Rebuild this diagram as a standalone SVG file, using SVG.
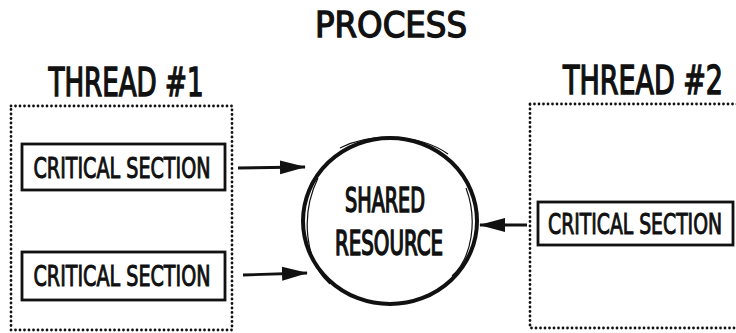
<svg xmlns="http://www.w3.org/2000/svg" width="736" height="333" viewBox="0 0 736 333">
<style>
.t{font-family:"DejaVu Sans Condensed","DejaVu Sans","Liberation Sans",sans-serif;fill:#111;stroke:#111;text-anchor:middle}
.title{font-size:30px;stroke-width:1.1}
.pr{font-size:36px;stroke-width:1.3}
.cs{font-size:20.5px;stroke-width:0.7}
.sr{font-size:21.5px;stroke-width:1}
.dot{fill:none;stroke:#111;stroke-width:2.8;stroke-dasharray:0 4.5;stroke-linecap:round}
.box{fill:#fff;stroke:#111;stroke-width:2.8}
.arr{stroke:#111;stroke-width:2.8;fill:none}
</style>
<defs>
<marker id="ah" viewBox="0 0 26 16" refX="25" refY="8" markerWidth="26" markerHeight="16" markerUnits="userSpaceOnUse" orient="auto">
<path d="M0,1 L26,8 L0,15 z" fill="#111"/>
</marker>
</defs>
<rect width="736" height="333" fill="#fff"/>
<g id="process-title">
<text class="t pr" x="391" y="37" textLength="152" lengthAdjust="spacingAndGlyphs">PROCESS</text>
</g>
<g id="thread1">
<text class="t title" transform="translate(126,96) scale(1,1.3)" textLength="155" lengthAdjust="spacingAndGlyphs">THREAD #1</text>
<rect class="dot" x="11" y="106" width="221" height="224"/>
</g>
<g id="cs1">
<rect class="box" x="22" y="144" width="203" height="46"/>
<text class="cs t" transform="translate(122,178) scale(1,1.4)" textLength="177" lengthAdjust="spacingAndGlyphs">CRITICAL SECTION</text>
</g>
<g id="cs2">
<rect class="box" x="22" y="252" width="203" height="48"/>
<text class="cs t" transform="translate(122,286) scale(1,1.4)" textLength="177" lengthAdjust="spacingAndGlyphs">CRITICAL SECTION</text>
</g>
<g id="thread2">
<text class="t title" transform="translate(643,94) scale(1,1.3)" textLength="160" lengthAdjust="spacingAndGlyphs">THREAD #2</text>
<rect class="dot" x="530" y="104" width="215" height="224"/>
</g>
<g id="cs3">
<rect class="box" x="538" y="202" width="195" height="43"/>
<text class="cs t" transform="translate(635,234) scale(1,1.4)" textLength="174" lengthAdjust="spacingAndGlyphs">CRITICAL SECTION</text>
</g>
<g id="shared-resource">
<ellipse cx="390" cy="221" rx="87" ry="83" fill="#fff" stroke="#111" stroke-width="4"/>
<path d="M318,178 C300,215 305,262 330,284" fill="none" stroke="#111" stroke-width="1.2"/>
<path d="M466,188 C478,220 472,258 452,276" fill="none" stroke="#111" stroke-width="1.2"/>
<path d="M340,148 C370,132 420,134 448,154" fill="none" stroke="#111" stroke-width="1.2"/>
<text class="t sr" transform="translate(385,212) scale(1,1.55)" textLength="80" lengthAdjust="spacingAndGlyphs">SHARED</text>
<text class="t sr" transform="translate(389,255) scale(1,1.55)" textLength="108" lengthAdjust="spacingAndGlyphs">RESOURCE</text>
</g>
<g id="connectors">
<line class="arr" x1="238" y1="168" x2="305" y2="167" marker-end="url(#ah)"/>
<line class="arr" x1="243" y1="275" x2="307" y2="273" marker-end="url(#ah)"/>
<line class="arr" x1="527" y1="225" x2="480" y2="225" marker-end="url(#ah)"/>
</g>
</svg>
